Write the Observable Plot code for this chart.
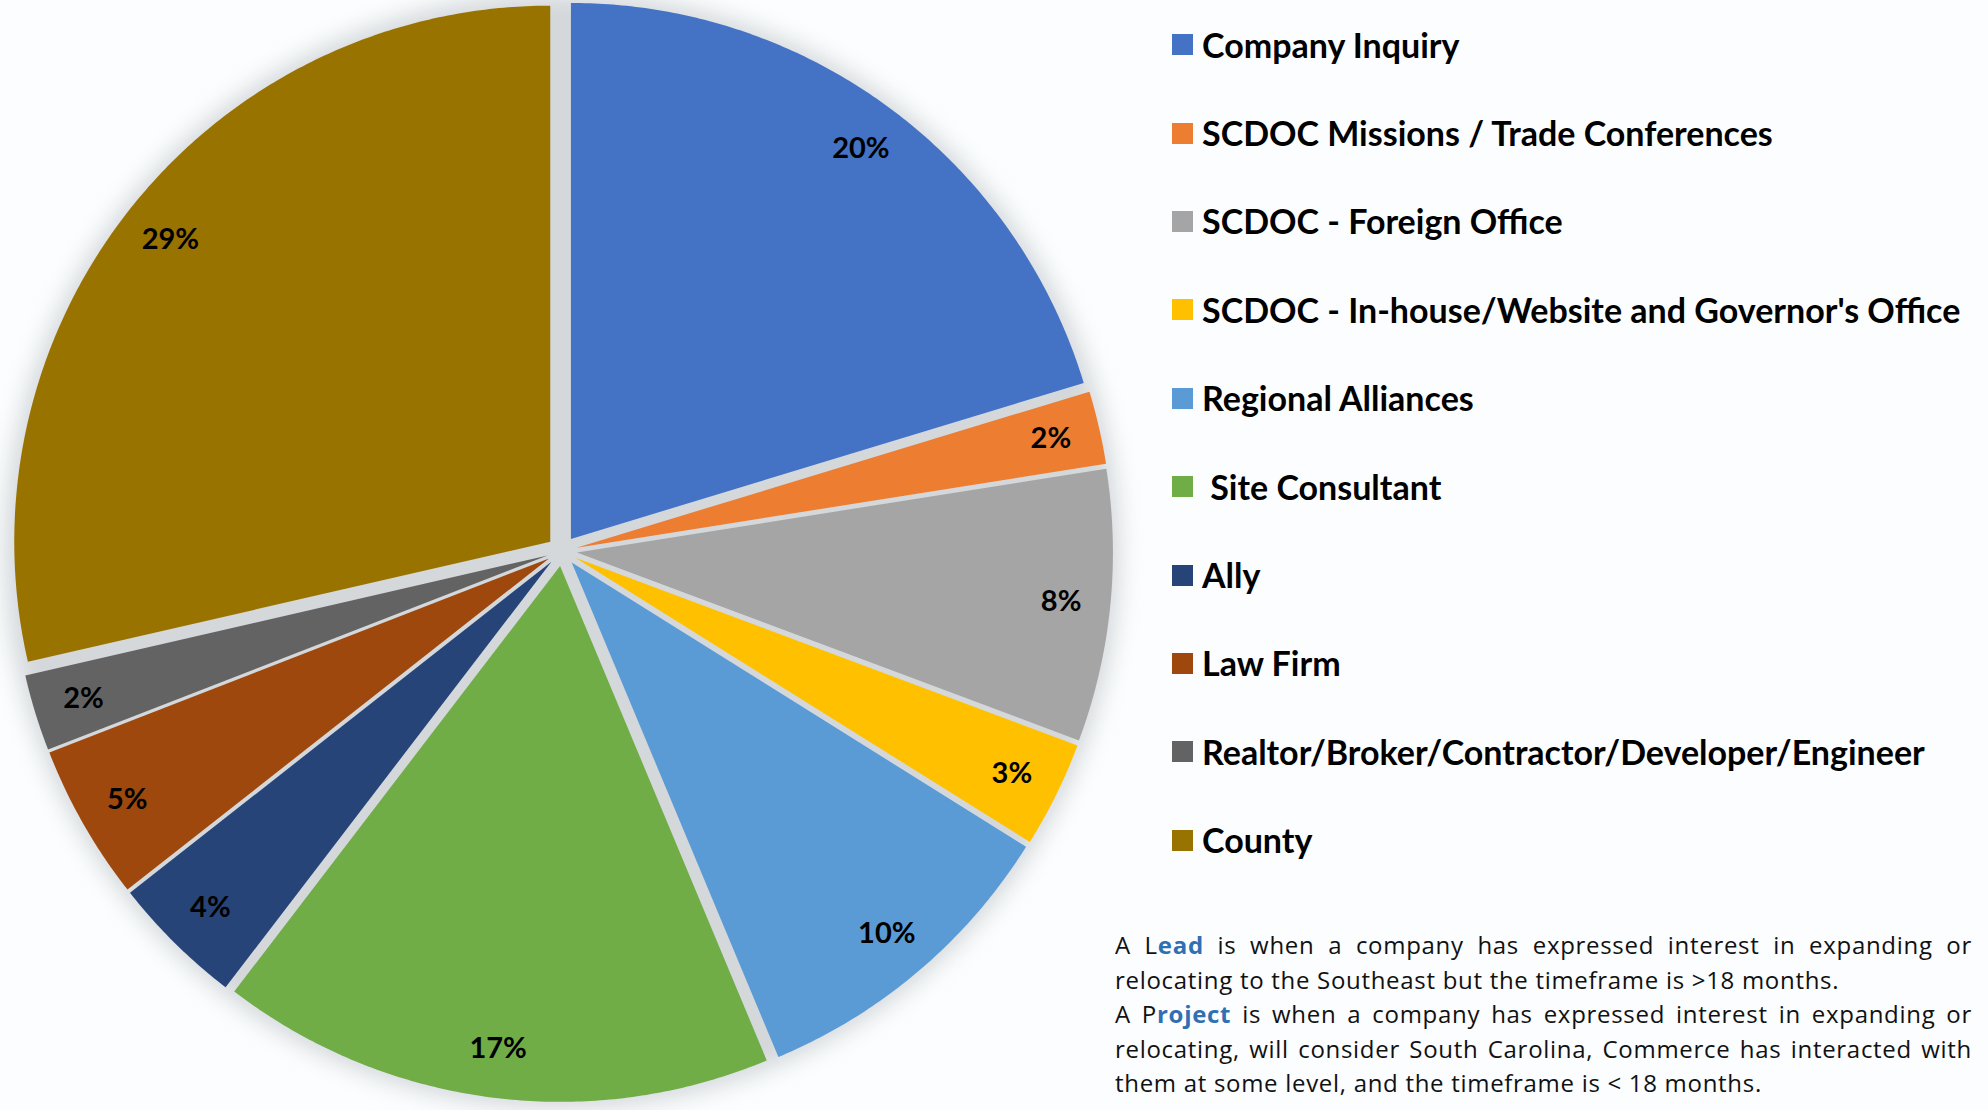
<!DOCTYPE html>
<html>
<head>
<meta charset="utf-8">
<script src="https://cdn.jsdelivr.net/npm/d3@7"></script>
<script src="https://cdn.jsdelivr.net/npm/@observablehq/plot@0.6"></script>
<style>
  html, body { margin: 0; padding: 0; background: #fbfdfe; }
  #page { position: relative; width: 1988px; height: 1110px; overflow: hidden; background: #fbfdfe; }
  #chart { position: absolute; left: 0; top: 0; }
  .leg-row { position: absolute; left: 1172px; height: 40px; display: flex; align-items: center; white-space: pre; }
  .leg-sw { width: 21px; height: 21px; margin-right: 9px; flex: none; }
  .leg-tx { font-family: Lato, sans-serif; font-weight: 700; font-size: 34px; color: #000; line-height: 40px; }
  #note { position: absolute; left: 1115px; top: 928px; width: 857px; font-family: "Open Sans", sans-serif; font-size: 24px; letter-spacing: 0.7px; line-height: 34.6px; color: #111; }
  #note div { white-space: nowrap; }
  #note .j { text-align: justify; text-align-last: justify; }
  #note b { color: #2f6fb3; font-weight: 700; }
</style>
</head>
<body>
<div id="page">
  <div id="chart"></div>
  <div id="legend"></div>
  <div id="note">
    <div class="j">A L<b>ead</b> is when a company has expressed interest in expanding or</div>
    <div>relocating to the Southeast but the timeframe is &gt;18 months.</div>
    <div class="j">A P<b>roject</b> is when a company has expressed interest in expanding or</div>
    <div class="j">relocating, will consider South Carolina, Commerce has interacted with</div>
    <div>them at some level, and the timeframe is &lt; 18 months.</div>
  </div>
</div>
<script>
// ---- data ----
const categories = [
  "Company Inquiry",
  "SCDOC Missions / Trade Conferences",
  "SCDOC - Foreign Office",
  "SCDOC - In-house/Website and Governor's Office",
  "Regional Alliances",
  " Site Consultant",
  "Ally",
  "Law Firm",
  "Realtor/Broker/Contractor/Developer/Engineer",
  "County"
];
const shares = [20.3, 2.2, 8.2, 3.2, 9.8, 16.7, 4.0, 4.7, 2.3, 28.6];
const colors = ["#4472C4", "#ED7D31", "#A5A5A5", "#FFC000", "#5B9BD5", "#70AD47", "#264478", "#9E480E", "#636363", "#997300"];

// ---- layout ----
const cx = 562, cy = 551, R = 536;
const explode = 15 / R;
const labelR = 0.907;

const arcs = d3.pie().sort(null).value(d => d)(shares);

// each slice: arc points (x1,y1) against the slice apex (x2,y2) -> filled sector
const slicePts = [];
const labelPts = [];
arcs.forEach((a, i) => {
  const mid = (a.startAngle + a.endAngle) / 2;
  const ox = explode * Math.sin(mid), oy = -explode * Math.cos(mid);
  const cat = categories[i];
  const n = Math.max(2, Math.ceil((a.endAngle - a.startAngle) / (Math.PI / 360)));
  for (let k = 0; k <= n; k++) {
    const t = a.startAngle + (a.endAngle - a.startAngle) * k / n;
    slicePts.push({cat, x1: ox + Math.sin(t), y1: oy - Math.cos(t), x2: ox, y2: oy});
  }
  labelPts.push({
    cat,
    x: ox + labelR * Math.sin(mid),
    y: oy - labelR * Math.cos(mid),
    text: Math.round(a.data) + "%"
  });
});

const shadowPts = d3.range(0, 361, 1).map(deg => ({
  x1: 1.04 * Math.sin(deg * Math.PI / 180),
  y1: -1.04 * Math.cos(deg * Math.PI / 180),
  x2: 0, y2: 0
}));

const chart = Plot.plot({
  width: 1140,
  height: 1110,
  margin: 0,
  x: {domain: [-1, 1], range: [cx - R, cx + R], axis: null},
  y: {domain: [-1, 1], range: [cy - R, cy + R], axis: null},
  color: {domain: categories, range: colors, legend: false},
  marks: [
    Plot.area(shadowPts, {x1: "x1", y1: "y1", x2: "x2", y2: "y2", fill: "#d4d8db"}),
    Plot.area(slicePts, {x1: "x1", y1: "y1", x2: "x2", y2: "y2", z: "cat", fill: "cat"}),
    Plot.text(labelPts, {x: "x", y: "y", text: "text", fill: "#000", fontSize: 29, fontWeight: "bold", fontFamily: "Lato, sans-serif", textAnchor: "middle", lineAnchor: "middle"})
  ]
});
chart.style.background = "transparent";
chart.style.overflow = "visible";
const areaGroups = chart.querySelectorAll('g[aria-label="area"]');
if (areaGroups.length) areaGroups[0].style.filter = "blur(11px)";
document.getElementById("chart").appendChild(chart);

// ---- legend ----
const legend = document.getElementById("legend");
const rowTop = 44.6, rowStep = 88.4;
categories.forEach((c, i) => {
  const row = document.createElement("div");
  row.className = "leg-row";
  row.style.top = (rowTop + i * rowStep - 20) + "px";
  const sw = document.createElement("div");
  sw.className = "leg-sw";
  sw.style.background = colors[i];
  const tx = document.createElement("span");
  tx.className = "leg-tx";
  tx.textContent = c;
  row.appendChild(sw);
  row.appendChild(tx);
  legend.appendChild(row);
});
</script>
</body>
</html>
